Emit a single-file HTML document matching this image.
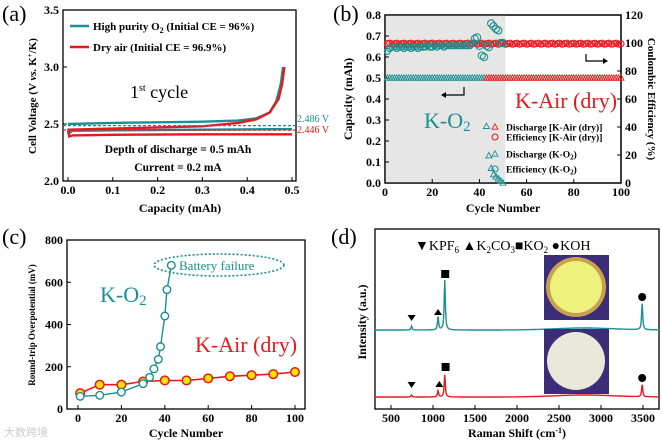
<!DOCTYPE html>
<html><head><meta charset="utf-8"><style>
body{margin:0;background:#fff}
svg{display:block;font-family:"Liberation Serif",serif;font-weight:bold}
</style></head><body>
<svg id="s" width="662" height="444" viewBox="0 0 662 444"></svg>
<script>
// ---- Panel (a) data ----
const aTealCharge=[[0,2.50],[0.1,2.51],[0.2,2.515],[0.3,2.52],[0.38,2.53],[0.42,2.55],[0.45,2.60],[0.465,2.7],[0.475,2.85],[0.48,3.0]];
const aTealDis=[[0,2.46],[0.003,2.42],[0.01,2.44],[0.1,2.445],[0.3,2.45],[0.5,2.455]];
const aRedCharge=[[0,2.45],[0.1,2.46],[0.2,2.47],[0.3,2.48],[0.38,2.51],[0.42,2.54],[0.45,2.60],[0.47,2.72],[0.478,2.85],[0.483,3.0]];
const aRedDis=[[0,2.44],[0.003,2.39],[0.01,2.40],[0.1,2.405],[0.3,2.41],[0.5,2.41]];
const aXTicks=[0,0.1,0.2,0.3,0.4,0.5];
const aYTicks=[2.0,2.5,3.0,3.5];
// ---- Panel (b) data ----
const bTealDisCycles=[43,44,45,46,47,48,49,50];
const bTealDisVals=[0.27,0.13,0.07,0.04,0.03,0.02,0.01,0.0];
const bTealEffCycles=[38,39,40,41,42,43,44,45,46,47,48,49,50];
const bTealEffVals=[103,104,98,91,90,98,97,114,112,110,109,100,100];
const bTealEffEarly=[94,96,97,97,96,97,97,96,97,97,96,97,97,96,97,97,97,98,97,97,98,97,98,98,97,98,98,98,98,98,98,98,98,98,98,98,100];
const bRedEff=99.5;
const bXTicks=[0,20,40,60,80,100];
const bYTicks=[0,0.1,0.2,0.3,0.4,0.5,0.6,0.7,0.8];
const bY2Ticks=[0,20,40,60,80,100,120];
// ---- Panel (c) data ----
const cTeal=[[1,60],[10,65],[20,80],[30,120],[33,150],[35,190],[37,235],[38,295],[40,440],[41,565],[43,680]];
const cRed=[[1,75],[10,115],[20,115],[30,130],[40,135],[50,135],[60,145],[70,155],[80,160],[90,165],[100,175]];
const cXTicks=[0,20,40,60,80,100];
const cYTicks=[0,200,400,600,800];
// ---- Panel (d) data ----
const dTealPeaks=[[745,4],[1060,13],[1140,50],[3490,26]];
const dRedPeaks=[[745,2],[1060,6],[1140,22],[3490,12]];
const dXTicks=[500,1000,1500,2000,2500,3000,3500];

const S=document.getElementById('s');const NS='http://www.w3.org/2000/svg';
function E(t,a,p){const e=document.createElementNS(NS,t);for(const k in a)e.setAttribute(k,a[k]);(p||S).appendChild(e);return e;}
function T(x,y,s,a,p){const e=E('text',Object.assign({x:x,y:y},a),p);e.innerHTML=s;return e;}
function lin(d0,d1,r0,r1){return v=>r0+(v-d0)/(d1-d0)*(r1-r0);}
function pts(arr,X,Y){return arr.map(p=>X(p[0]).toFixed(1)+','+Y(p[1]).toFixed(1)).join(' ');}
const TEAL='#1a9090',RED='#e8181c';

function frame(name,l,t,r,b){const g=E('g',{});
E('rect',{x:l,y:t,width:r-l,height:b-t,fill:'none',stroke:'#000','stroke-width':1.3},g);return g;}
function xticks(g,ticks,X,b,fmt,fs){ticks.forEach(v=>{E('line',{x1:X(v),x2:X(v),y1:b,y2:b-4,stroke:'#000'},g);
const t=T(X(v),b+13,fmt(v),{'text-anchor':'middle','font-size':fs||12},g);});}
function yticks(g,ticks,Y,l,fmt,fs){ticks.forEach(v=>{E('line',{x1:l,x2:l+4,y1:Y(v),y2:Y(v),stroke:'#000'},g);
const t=T(l-4,Y(v)+4,fmt(v),{'text-anchor':'end','font-size':fs||12},g);});}

// ===== Panel a =====
(function(){const l=63,t=10,r=296,b=181;const X=lin(0,0.5,68,292),Y=lin(2.0,3.5,181,10);
const g=frame('panel-a',l,t,r,b);
xticks(g,aXTicks,X,b,v=>v.toFixed(1));yticks(g,aYTicks,Y,l,v=>v.toFixed(1));
[[aTealDis,TEAL],[aRedDis,RED],[aTealCharge,TEAL],[aRedCharge,RED]].forEach((s,i)=>{const p=E('polyline',{points:pts(s[0],X,Y),fill:'none',stroke:s[1],'stroke-width':2.4},g);});
E('line',{x1:l,x2:r,y1:Y(2.486),y2:Y(2.486),stroke:TEAL,'stroke-dasharray':'3,2','stroke-width':1.2},g);
E('line',{x1:l,x2:r,y1:Y(2.446),y2:Y(2.446),stroke:RED,'stroke-dasharray':'3,2','stroke-width':1.2},g);
T(297,122,'2.486 V',{fill:TEAL,'font-size':10,'font-weight':'normal'},g);T(297,133,'2.446 V',{fill:RED,'font-size':10,'font-weight':'normal'},g);
E('line',{x1:70,x2:89,y1:26,y2:26,stroke:TEAL,'stroke-width':2.5},g);E('line',{x1:70,x2:89,y1:47,y2:47,stroke:RED,'stroke-width':2.5},g);
T(93,30,'High purity O<tspan font-size="8" dy="3">2</tspan><tspan dy="-3"> (Initial CE = 96%)</tspan>',{'font-size':11},g);
T(93,51,'Dry air (Initial CE = 96.9%)',{'font-size':11},g);
T(130,98,'1<tspan font-size="10" dy="-7">st</tspan><tspan dy="7"> cycle</tspan>',{'font-size':18,'font-weight':'normal'},g);
T(178,153,'Depth of discharge = 0.5 mAh',{'font-size':11.5,'text-anchor':'middle'},g);
T(178,171,'Current = 0.2 mA',{'font-size':11.5,'text-anchor':'middle'},g);
T(180,212,'Capacity (mAh)',{'font-size':12,'text-anchor':'middle'},g);
T(0,0,'Cell Voltage (V <tspan font-style="italic">vs.</tspan> K<tspan font-size="7" dy="-4">+</tspan><tspan dy="4">/K)</tspan>',{'font-size':11,'text-anchor':'middle',transform:'translate(36,96) rotate(-90)'},g);
T(2,21,'(a)',{'font-size':22,'font-weight':'normal'},g);})();

// ===== Panel b =====
(function(){const l=385,t=15,r=621,b=183;const X=lin(0,100,385,621),Y=lin(0,0.8,183,15),Y2=lin(0,120,183,15);
const g=frame('panel-b',l,t,r,b);
E('rect',{x:l,y:t,width:X(51)-l,height:b-t,fill:'#e6e6e6'},g);E('rect',{x:l,y:t,width:r-l,height:b-t,fill:'none',stroke:'#000','stroke-width':1.3},g);
xticks(g,bXTicks,X,b,v=>v);yticks(g,bYTicks,Y,l,v=>v.toFixed(1));
bY2Ticks.forEach(v=>{E('line',{x1:r,x2:r-4,y1:Y2(v),y2:Y2(v),stroke:'#000'},g);T(r+4,Y2(v)+4,v,{'font-size':12},g);});
function tri(x,y,c){E('path',{d:`M${x},${y-3.2}L${x+3},${y+2.2}L${x-3},${y+2.2}Z`,fill:'none',stroke:c,'stroke-width':0.9},g);}
function cir(x,y,c,rr){E('circle',{cx:x,cy:y,r:rr||3,fill:'none',stroke:c,'stroke-width':1.1},g);}
for(let c=1;c<=100;c++){cir(X(c),Y2(bRedEff+(c%3-1)*0.4),RED);}
for(let c=1;c<=100;c++){tri(X(c),Y(0.5),c<43?TEAL:RED);}
bTealDisCycles.forEach((c,i)=>tri(X(c),Y(bTealDisVals[i]),TEAL));
bTealEffEarly.forEach((v,i)=>cir(X(i+1),Y2(v),TEAL));
bTealEffCycles.forEach((c,i)=>cir(X(c),Y2(bTealEffVals[i]),TEAL,3.6));
T(515,108,'K-Air (dry)',{'font-size':22,'font-weight':'normal',fill:RED},g);
T(424,128,'K-O<tspan font-size="15" dy="3">2</tspan>',{'font-size':22,'font-weight':'normal',fill:TEAL},g);
E('path',{d:'M464,87V95H446',fill:'none',stroke:'#000','stroke-width':1.2},g);E('path',{d:'M446,92L441,95L446,98Z'},g);
E('path',{d:'M586,54V61H603',fill:'none',stroke:'#000','stroke-width':1.2},g);E('path',{d:'M603,58L608,61L603,64Z'},g);
const lg=[[127,'t',RED,'Discharge [K-Air (dry)]'],[137,'c',RED,'Efficiency [K-Air (dry)]'],[154,'t',TEAL,'Discharge (K-O<tspan font-size="7" dy="2">2</tspan><tspan dy="-2">)</tspan>'],[169,'c',TEAL,'Efficiency (K-O<tspan font-size="7" dy="2">2</tspan><tspan dy="-2">)</tspan>']];
lg.forEach(e=>{e[1]=='t'?tri(495,e[0],e[2]):cir(495,e[0],e[2]);const tx=T(506,e[0]+3.5,e[3],{'font-size':9.5},g);});
T(503,212,'Cycle Number',{'font-size':12,'text-anchor':'middle'},g);
T(0,0,'Capacity (mAh)',{'font-size':12,'text-anchor':'middle',transform:'translate(352,99) rotate(-90)'},g);
T(0,0,'Coulombic Efficiency (%)',{'font-size':11,'text-anchor':'middle',transform:'translate(648,99) rotate(90)'},g);
T(333,21,'(b)',{'font-size':22,'font-weight':'normal'},g);})();

// ===== Panel c =====
(function(){const l=67,t=240,r=305,b=409;const X=lin(0,100,78,295),Y=lin(0,800,409,240);
const g=frame('panel-c',l,t,r,b);
xticks(g,cXTicks,X,b,v=>v);yticks(g,cYTicks,Y,l,v=>v);
E('polyline',{points:pts(cRed,X,Y),fill:'none',stroke:RED,'stroke-width':1.6},g);
cRed.forEach(p=>E('circle',{cx:X(p[0]),cy:Y(p[1]),r:4.3,fill:'#f5e400',stroke:RED,'stroke-width':1.5},g));
E('polyline',{points:pts(cTeal,X,Y),fill:'none',stroke:TEAL,'stroke-width':1.4},g);
cTeal.forEach(p=>E('circle',{cx:X(p[0]),cy:Y(p[1]),r:3.8,fill:'#fff',stroke:TEAL,'stroke-width':1.4},g));
E('ellipse',{cx:219,cy:265,rx:65,ry:11,fill:'none',stroke:TEAL,'stroke-width':1.6,'stroke-dasharray':'2,2'},g);
T(179,270,'Battery failure',{'font-size':13,'font-weight':'normal',fill:TEAL},g);
T(100,302,'K-O<tspan font-size="15" dy="3">2</tspan>',{'font-size':22,'font-weight':'normal',fill:TEAL},g);
T(195,352,'K-Air (dry)',{'font-size':22,'font-weight':'normal',fill:RED},g);
T(186,437,'Cycle Number',{'font-size':12,'text-anchor':'middle'},g);
T(0,0,'Round-trip Overpotential (mV)',{'font-size':9,'text-anchor':'middle',transform:'translate(35,325) rotate(-90)'},g);
T(2,244,'(c)',{'font-size':22,'font-weight':'normal'},g);
T(4,436,'大数跨境',{'font-size':11,fill:'#ccc','font-family':'"Noto Sans CJK SC",sans-serif','font-weight':'normal'},g);})();

// ===== Panel d =====
(function(){const l=375,t=229,r=659,b=409;const X=lin(500,3500,391,643);
const g=frame('panel-d',l,t,r,b);
xticks(g,dXTicks,X,b,v=>v);
function spec(peaks,base,c,n){let d='';for(let w=300;w<=3700;w+=5){let v=0;peaks.forEach(p=>{const h=8;v+=p[1]*h*h/((w-p[0])*(w-p[0])+h*h);});v+=2*Math.exp(-Math.pow((w-2800)/500,2));d+=(d?'L':'M')+X(w).toFixed(1)+','+(base-v).toFixed(1);}
const p=E('path',{d:d,fill:'none',stroke:c,'stroke-width':1.4},g);}
spec(dTealPeaks,330,TEAL,'spectrum-o2');spec(dRedPeaks,397,RED,'spectrum-dry-air');
function dn(x,y){E('path',{d:`M${x-4},${y-3}L${x+4},${y-3}L${x},${y+3}Z`},g);}
function up(x,y){E('path',{d:`M${x-4},${y+3}L${x+4},${y+3}L${x},${y-3}Z`},g);}
dn(X(745),318);up(X(1060),312);E('rect',{x:X(1145)-4,y:270,width:8,height:8},g);E('circle',{cx:X(3490),cy:297,r:4},g);
dn(X(745),385);up(X(1075),384);E('rect',{x:X(1150)-4,y:363,width:8,height:8},g);E('circle',{cx:X(3490),cy:378,r:4},g);
T(415,250,'▼KPF<tspan font-size="9" dy="3">6</tspan><tspan dy="-3"> ▲K</tspan><tspan font-size="9" dy="3">2</tspan><tspan dy="-3">CO</tspan><tspan font-size="9" dy="3">3</tspan><tspan dy="-3">■KO</tspan><tspan font-size="9" dy="3">2</tspan><tspan dy="-3"> ●KOH</tspan>',{'font-size':14,'font-weight':'normal'},g);
E('rect',{x:544,y:255,width:65,height:65,fill:'#3b2d78'},g);E('circle',{cx:576,cy:287,r:30,fill:'#c9a050'},g);E('circle',{cx:576,cy:287,r:26,fill:'#edf27c'},g);
E('rect',{x:544,y:329,width:65,height:65,fill:'#3b2d78'},g);E('circle',{cx:576,cy:361,r:29,fill:'#e9e9da'},g);
T(517,437,'Raman Shift (cm<tspan font-size="8" dy="-4">-1</tspan><tspan dy="4">)</tspan>',{'font-size':12,'text-anchor':'middle'},g);
T(0,0,'Intensity (a.u.)',{'font-size':12,'text-anchor':'middle',transform:'translate(366,322) rotate(-90)'},g);
T(331,244,'(d)',{'font-size':22,'font-weight':'normal'},g);})();
</script>
</body></html>
